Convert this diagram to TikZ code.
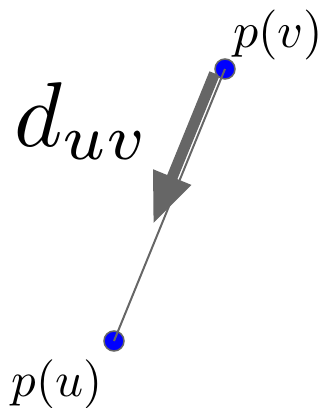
\documentclass[tikz,border=0pt]{standalone}
\usepackage{amsmath}
\usetikzlibrary{arrows.meta,calc}
\definecolor{edgegray}{HTML}{666666}
\tikzset{
  pt/.style={circle,fill=blue,draw=edgegray,line width=1.5pt,minimum size=20pt,inner sep=0pt},
  thinline/.style={draw=edgegray,line width=2pt},
  bigarrow/.style={draw=edgegray,line width=11pt,-{Triangle[length=51pt,width=38pt]},fill=edgegray},
  lbl/.style={inner sep=0pt,anchor=base west}
}
\begin{document}
\begin{tikzpicture}[x=1pt,y=1pt]
\useasboundingbox (0,0) rectangle (324,408);
\coordinate (cv) at (225,339);
\coordinate (cu) at (114,67);
% arrow
\coordinate (as0) at ($(cv)!8pt!(cu)$);
\coordinate (as) at ($(as0)!8pt!-90:(cu)$);
\coordinate (ae0) at ($(cv)!171pt!(cu)$);
\coordinate (ae) at ($(ae0)!8pt!90:(cv)$);
\draw[bigarrow] (as) -- (ae);
\node[pt] (v) at (cv) {};
\node[pt] (u) at (cu) {};
\draw[thinline] (u.center) -- (v.center);
\node[lbl,scale=5.0] (lv) at (232,360) {$p(v)$};
\node[lbl,scale=4.9] (lu) at (11,12) {$p(u)$};
\node[lbl,scale=9.2] (ld) at (13,262) {$d_{uv}$};
\end{tikzpicture}
\end{document}
